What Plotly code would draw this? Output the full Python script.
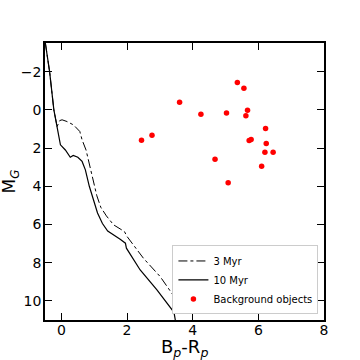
import plotly.graph_objects as go

# 10 Myr isochrone
x_10myr = [-0.49, -0.36, -0.23, -0.17, -0.13, -0.08, -0.03, 0.12, 0.27, 0.36, 0.50, 0.63, 0.73, 0.85, 1.00, 1.10, 1.25, 1.41, 1.79, 1.95, 1.98, 2.40, 2.91, 3.43, 3.47]
y_10myr = [-3.5, -2.0, 0.0, 0.55, 0.87, 1.35, 1.83, 2.10, 2.48, 2.39, 2.48, 2.70, 3.14, 4.00, 4.80, 5.40, 5.95, 6.34, 6.77, 6.98, 7.24, 8.38, 9.42, 10.6, 11.0]

# 3 Myr isochrone
x_3myr = [-0.49, -0.36, -0.23, -0.17, -0.13, -0.05, 0.02, 0.17, 0.37, 0.56, 0.63, 0.75, 0.88, 0.97, 1.08, 1.20, 1.37, 1.59, 1.92, 2.00, 2.50, 3.01, 3.40]
y_3myr = [-3.5, -2.0, 0.0, 0.55, 0.87, 0.56, 0.52, 0.61, 0.79, 1.13, 1.57, 2.10, 3.00, 3.66, 4.50, 5.10, 5.55, 6.02, 6.37, 6.63, 7.77, 8.73, 9.69]

# Background objects
bg_x = [2.44, 2.76, 3.60, 4.25, 5.03, 5.36, 5.56, 5.67, 5.62, 6.22, 5.72, 5.78, 6.24, 6.20, 6.45, 4.68, 6.10, 5.08]
bg_y = [1.59, 1.33, -0.40, 0.23, 0.16, -1.43, -1.13, 0.02, 0.31, 0.98, 1.61, 1.55, 1.76, 2.22, 2.22, 2.58, 2.95, 3.82]

x_ticks = [0, 2, 4, 6, 8]
y_ticks = [-2, 0, 2, 4, 6, 8, 10]

fig = go.Figure()
fig.add_trace(go.Scatter(x=x_3myr, y=y_3myr, mode="lines", name="3 Myr",
                         line=dict(color="black", width=1, dash="dashdot")))
fig.add_trace(go.Scatter(x=x_10myr, y=y_10myr, mode="lines", name="10 Myr",
                         line=dict(color="black", width=1.2)))
fig.add_trace(go.Scatter(x=bg_x, y=bg_y, mode="markers", name="Background objects",
                         marker=dict(color="red", size=5.5, line=dict(width=0))))

axis_common = dict(showgrid=False, zeroline=False, showline=True, linecolor="black",
                   linewidth=1.5, mirror="ticks", ticks="inside", ticklen=7,
                   tickwidth=1.2, tickcolor="black", automargin=False,
                   tickfont=dict(family="DejaVu Sans", size=14, color="black"))

fig.update_xaxes(range=[-0.5, 8], tickvals=x_ticks, title=None,
                 ticklabelstandoff=-4, **axis_common)
fig.update_yaxes(range=[11, -3.5], tickvals=y_ticks, title=None,
                 ticklabelstandoff=-1, **axis_common)

fig.add_annotation(text="B<sub><i>p</i></sub>-R<sub><i>p</i></sub>",
                   xref="paper", yref="paper", x=0.5, y=-0.05,
                   xanchor="center", yanchor="top", showarrow=False,
                   font=dict(family="DejaVu Sans", size=18, color="black"))
fig.add_annotation(text="M<sub><i>G</i></sub>", textangle=-90,
                   xref="paper", yref="paper", x=-0.122, y=0.5,
                   xanchor="center", yanchor="middle", showarrow=False,
                   font=dict(family="DejaVu Sans", size=17, color="black"))

fig.update_layout(
    width=360, height=360,
    margin=dict(l=45, r=36, t=43, b=40),
    paper_bgcolor="white", plot_bgcolor="white",
    font=dict(family="DejaVu Sans", color="black"),
    legend=dict(x=0.98, y=0.02, xanchor="right", yanchor="bottom",
                bgcolor="white", bordercolor="#cccccc", borderwidth=1,
                font=dict(family="DejaVu Sans", size=10, color="black"),
                tracegroupgap=0, itemwidth=30),
)

fig.write_html("out.html", config={"displayModeBar": False},
               post_script="document.body.style.margin='0';document.body.style.overflow='hidden';")
